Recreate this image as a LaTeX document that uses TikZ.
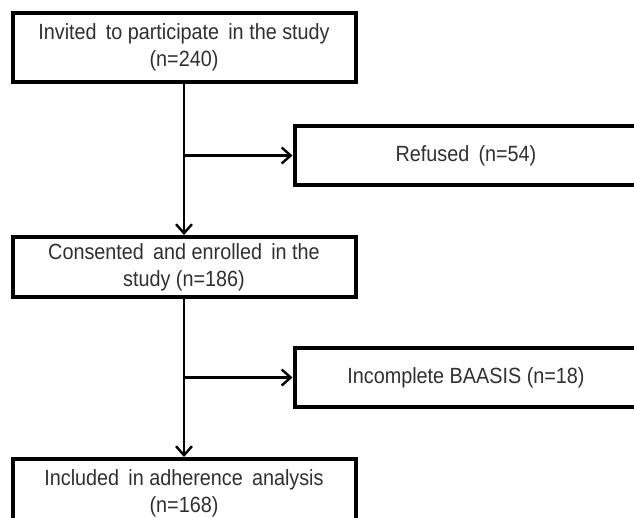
\documentclass[tikz,border=0pt]{standalone}
\usepackage{fontspec}
\setmainfont[FakeStretch=0.9]{Liberation Sans}
\usetikzlibrary{arrows.meta}
\definecolor{txt}{HTML}{303030}
\tikzset{
  box/.style={draw=black, line width=4pt, fill=white, minimum width=343pt, text=txt,
    align=center, font=\fontsize{22}{27}\selectfont, inner sep=0pt},
  conn/.style={line width=2.4pt, -{Straight Barb[length=9pt,width=16pt,line width=2.4pt]}}
}
\begin{document}
\begin{tikzpicture}[x=1pt,y=1pt]
\useasboundingbox (0,0) rectangle (634,-517);
\node[box, minimum height=69pt] (b1) at (184,-47.5) {Invited\, to participate\, in the study\\(n=240)};
\node[box, minimum height=59pt] (b2) at (466,-155.5) {Refused\, (n=54)};
\node[box, minimum height=60pt] (b3) at (184,-267) {Consented\, and enrolled\, in the\\study (n=186)};
\node[box, minimum height=59pt] (b4) at (466,-377.5) {Incomplete BAASIS (n=18)};
\node[box, minimum height=69pt] (b5) at (184,-493.5) {Included\, in adherence\, analysis\\(n=168)};
\draw[conn] (b1.south) -- (b3.north);
\draw[conn] (b1.south |- b2.west) -- (b2.west);
\draw[conn] (b3.south) -- (b5.north);
\draw[conn] (b3.south |- b4.west) -- (b4.west);
\end{tikzpicture}
\end{document}
